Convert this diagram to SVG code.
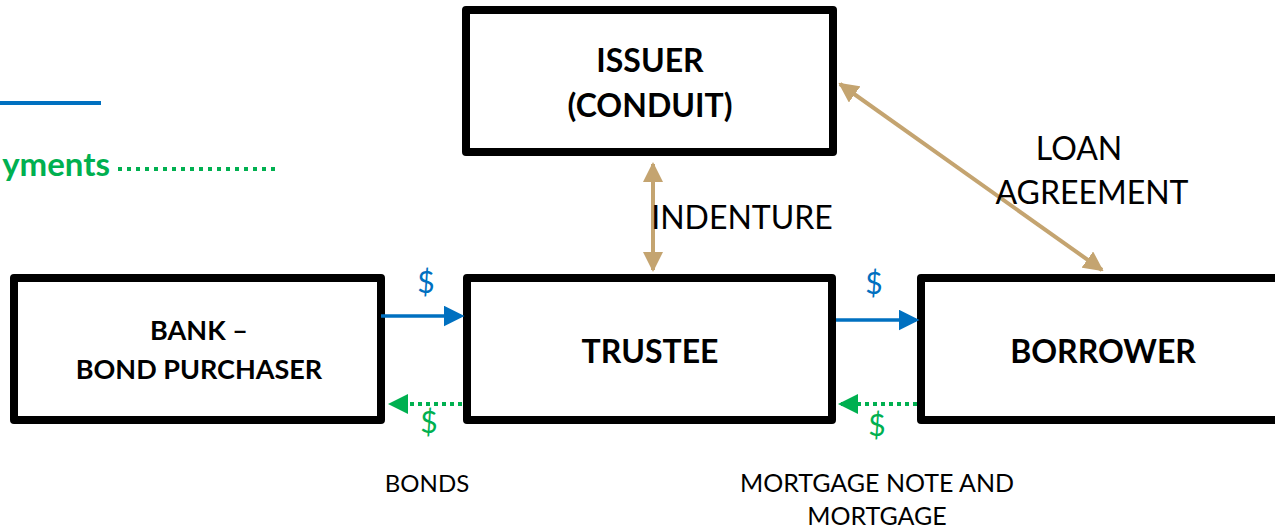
<svg xmlns="http://www.w3.org/2000/svg" width="1275" height="529" viewBox="0 0 1275 529">
<style>
.box{fill:#fff;stroke:#000;stroke-width:8;stroke-linejoin:round}
.bt{font-family:Lato,"Liberation Sans",sans-serif;font-weight:bold;fill:#000;text-anchor:middle}
.lt{font-family:Lato,"Liberation Sans",sans-serif;fill:#000;text-anchor:middle}
.blue{stroke:#0070C0;stroke-width:3.5;fill:none}
.green{stroke:#00B050;stroke-width:4;fill:none;stroke-dasharray:4 4}
.tan{stroke:#C4A470;stroke-width:4;fill:none}
.bd{font-family:Lato,"Liberation Sans",sans-serif;fill:#0070C0;font-size:30px;text-anchor:middle}
.gd{font-family:Lato,"Liberation Sans",sans-serif;fill:#00B050;font-size:30px;text-anchor:middle}
</style>
<defs>
<marker id="ab" markerWidth="6" markerHeight="6" refX="5" refY="3" orient="auto" markerUnits="strokeWidth"><path d="M0,0 L6,3 L0,6 z" fill="#0070C0"/></marker>
<marker id="ag" markerWidth="5" markerHeight="5" refX="4.5" refY="2.5" orient="auto" markerUnits="strokeWidth"><path d="M0,0 L5,2.5 L0,5 z" fill="#00B050"/></marker>
<marker id="at" markerWidth="5" markerHeight="5" refX="4.5" refY="2.5" orient="auto-start-reverse" markerUnits="strokeWidth"><path d="M0,0 L5,2.5 L0,5 z" fill="#C4A470"/></marker>
</defs>
<rect width="1275" height="529" fill="#fff"/>
<g id="legend">
<line x1="0" y1="103" x2="101" y2="103" stroke="#0070C0" stroke-width="4"/>
<text x="110" y="176" font-family="Lato,'Liberation Sans',sans-serif" font-weight="bold" font-size="33" fill="#00B050" text-anchor="end">yments</text>
<line x1="118" y1="169" x2="276" y2="169" stroke="#00B050" stroke-width="4" stroke-dasharray="4 5"/>
</g>
<g id="issuer">
<rect class="box" x="466" y="10" width="367" height="142"/>
<text class="bt" x="650" y="72" font-size="32">ISSUER</text>
<text class="bt" x="650" y="117" font-size="32">(CONDUIT)</text>
</g>
<g id="bank">
<rect class="box" x="14" y="278" width="367" height="142"/>
<text class="bt" x="199" y="340" font-size="27">BANK –</text>
<text class="bt" x="199" y="379" font-size="27">BOND PURCHASER</text>
</g>
<g id="trustee">
<rect class="box" x="467" y="278" width="365" height="142"/>
<text class="bt" x="650" y="363" font-size="32">TRUSTEE</text>
</g>
<g id="borrower">
<rect class="box" x="921" y="278" width="365" height="142"/>
<text class="bt" x="1103" y="363" font-size="32">BORROWER</text>
</g>
<g id="connectors">
<line class="blue" x1="381" y1="316" x2="461" y2="316" marker-end="url(#ab)"/>
<line class="blue" x1="836" y1="320" x2="916" y2="320" marker-end="url(#ab)"/>
<line class="green" x1="462" y1="404" x2="390" y2="404" marker-end="url(#ag)"/>
<line class="green" x1="917" y1="404" x2="840" y2="404" marker-end="url(#ag)"/>
<line class="tan" x1="653" y1="164" x2="653" y2="270" marker-start="url(#at)" marker-end="url(#at)"/>
<line class="tan" x1="840" y1="84" x2="1102" y2="270" marker-start="url(#at)" marker-end="url(#at)"/>
<text class="bd" x="426" y="293">$</text>
<text class="gd" x="429" y="433">$</text>
<text class="bd" x="874" y="294">$</text>
<text class="gd" x="877" y="436">$</text>
<text class="lt" x="742" y="229" font-size="32">INDENTURE</text>
<text class="lt" x="1079" y="160" font-size="32">LOAN</text>
<text class="lt" x="1092" y="204" font-size="32">AGREEMENT</text>
<text class="lt" x="427" y="492" font-size="24">BONDS</text>
<text class="lt" x="877" y="492" font-size="25">MORTGAGE NOTE AND</text>
<text class="lt" x="877" y="525" font-size="25">MORTGAGE</text>
</g>
</svg>
